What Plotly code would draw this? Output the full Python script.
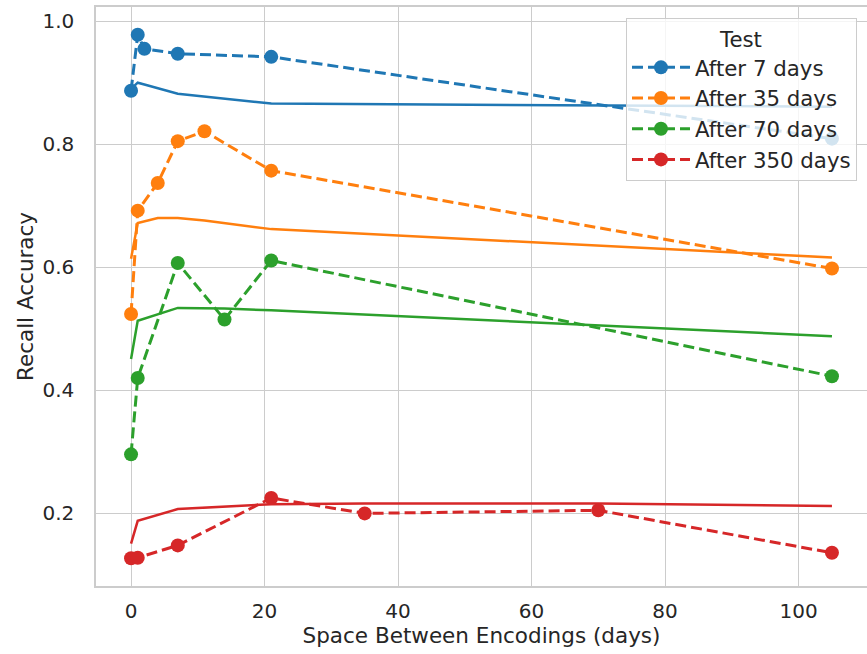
import plotly.graph_objects as go

# ---- data ----
test_labels = ["After 7 days", "After 35 days", "After 70 days", "After 350 days"]
colors = ["#1f77b4", "#ff7f0e", "#2ca02c", "#d62728"]

x_7 = [0, 1, 2, 7, 21, 105]
obs_7 = [0.887, 0.978, 0.955, 0.947, 0.942, 0.809]
fit_7 = [0.890, 0.900, 0.897, 0.882, 0.866, 0.861]

x_35 = [0, 1, 4, 7, 11, 21, 105]
obs_35 = [0.524, 0.692, 0.737, 0.805, 0.821, 0.757, 0.598]
fit_35 = [0.614, 0.672, 0.680, 0.680, 0.676, 0.662, 0.616]

x_70 = [0, 1, 7, 14, 21, 105]
obs_70 = [0.296, 0.420, 0.607, 0.515, 0.611, 0.423]
fit_70 = [0.451, 0.513, 0.534, 0.533, 0.530, 0.488]

x_350 = [0, 1, 7, 21, 35, 70, 105]
obs_350 = [0.127, 0.128, 0.148, 0.225, 0.200, 0.205, 0.136]
fit_350 = [0.151, 0.188, 0.207, 0.215, 0.216, 0.216, 0.212]

x_ticks = [0, 20, 40, 60, 80, 100]
y_ticks = [0.2, 0.4, 0.6, 0.8, 1.0]

xs = [x_7, x_35, x_70, x_350]
obs = [obs_7, obs_35, obs_70, obs_350]
fits = [fit_7, fit_35, fit_70, fit_350]

FONT = "DejaVu Sans"
TXT = "#262626"

fig = go.Figure()
for lab, c, x, o in zip(test_labels, colors, xs, obs):
    fig.add_trace(go.Scatter(
        x=x, y=o, mode="lines+markers", name=lab,
        line=dict(color=c, width=3, dash="11px,5px"),
        marker=dict(color=c, size=14, line=dict(width=0)),
    ))
for lab, c, x, f in zip(test_labels, colors, xs, fits):
    fig.add_trace(go.Scatter(
        x=x, y=f, mode="lines", showlegend=False,
        line=dict(color=c, width=2.5),
    ))

fig.update_layout(
    width=867, height=654,
    margin=dict(l=96, r=0, t=7, b=68),
    paper_bgcolor="white", plot_bgcolor="white",
    font=dict(family=FONT, color=TXT, size=20),
    showlegend=True,
    legend=dict(
        x=0.987, y=0.9805, xanchor="right", yanchor="top",
        bgcolor="rgba(255,255,255,0.8)", bordercolor="#cccccc", borderwidth=1,
        font=dict(family=FONT, size=21.3, color=TXT),
        title=dict(text="Test", side="top center", font=dict(family=FONT, size=21.3, color=TXT)),
        itemwidth=58, tracegroupgap=0,
    ),
)
fig.update_xaxes(
    range=[-5.25, 110.25], tickvals=x_ticks, ticktext=[str(v) for v in x_ticks],
    showgrid=True, gridcolor="#cccccc", gridwidth=1, zeroline=False,
    showline=True, linecolor="#cccccc", linewidth=1.5, mirror=True,
    ticks="", tickfont=dict(family=FONT, size=20, color=TXT), ticklabelstandoff=6,
    title=dict(text="Space Between Encodings (days)", font=dict(family=FONT, size=21.5, color=TXT), standoff=6),
    automargin=False,
)
fig.update_yaxes(
    range=[0.082, 1.023], tickvals=y_ticks, ticktext=["%.1f" % v for v in y_ticks],
    showgrid=True, gridcolor="#cccccc", gridwidth=1, zeroline=False,
    showline=True, linecolor="#cccccc", linewidth=1.5, mirror=True,
    ticks="", tickfont=dict(family=FONT, size=20, color=TXT), ticklabelstandoff=16,
    title=dict(text="Recall Accuracy", font=dict(family=FONT, size=21.5, color=TXT), standoff=3),
    automargin=False,
)

fig.write_html("out.html", config={"displayModeBar": False},
               post_script="document.body.style.margin='0';document.body.style.overflow='hidden';")
